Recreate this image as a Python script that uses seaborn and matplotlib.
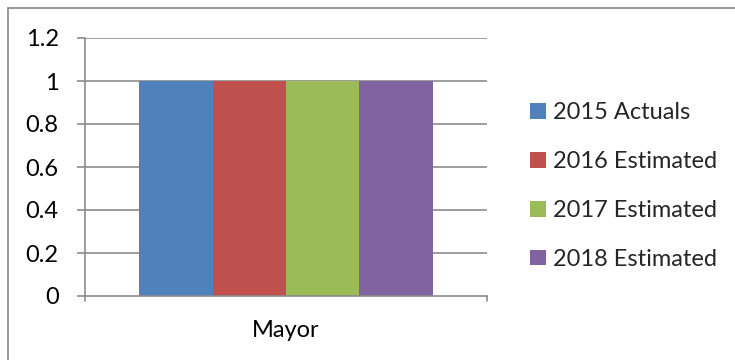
import matplotlib
matplotlib.use("Agg")
import matplotlib.pyplot as plt
import seaborn as sns
import pandas as pd
from matplotlib.lines import Line2D

categories = ["Mayor"]
series = ["2015 Actuals", "2016 Estimated", "2017 Estimated", "2018 Estimated"]
values = [1, 1, 1, 1]
colors = ["#4F81BD", "#C0504D", "#9BBB59", "#8064A2"]
yticks = [0, 0.2, 0.4, 0.6, 0.8, 1, 1.2]
ytick_labels = ["0", "0.2", "0.4", "0.6", "0.8", "1", "1.2"]

df = pd.DataFrame({
    "category": categories * len(series),
    "series": series,
    "value": values,
})

sns.set_theme(style="white")
plt.rcParams["font.family"] = ["Lato", "DejaVu Sans"]

FS = 17
fig = plt.figure(figsize=(7.35, 3.6), dpi=100)
ax = fig.add_axes([85 / 735, 1 - 296 / 360, 402 / 735, 258 / 360])

sns.barplot(data=df, x="category", y="value", hue="series", palette=colors,
            width=0.731, dodge=True, saturation=1, ax=ax, legend=True)
for p in ax.patches:
    p.set_edgecolor("none")

ax.set_ylim(0, 1.2)
ax.set_xlim(-0.5, 0.5)
ax.set_yticks(yticks)
ax.set_yticklabels(ytick_labels)
ax.set_xlabel("")
ax.set_ylabel("")
grid_c = "#8C8C8C"
for y in yticks[1:]:
    ax.axhline(y, color=grid_c, lw=1.2, zorder=0)
for s in ["top", "right"]:
    ax.spines[s].set_visible(False)
for s in ["left", "bottom"]:
    ax.spines[s].set_color(grid_c)
    ax.spines[s].set_linewidth(1.2)
ax.tick_params(axis="y", length=6, width=1.2, color=grid_c, left=True, pad=13,
               labelsize=FS, labelcolor="black")
ax.tick_params(axis="x", length=0, pad=17, labelsize=FS, labelcolor="black")
# Tick marks at both ends of the category axis
for xe in (-0.5, 0.5):
    ax.add_line(Line2D([xe, xe], [0, -0.025], color=grid_c, lw=1.2,
                       transform=ax.transData, clip_on=False))

handles, labels = ax.get_legend_handles_labels()
ax.legend(handles, labels, loc="center left", bbox_to_anchor=(521 / 735, 0.483),
          bbox_transform=fig.transFigure, frameon=False, fontsize=FS,
          handlelength=0.64, handleheight=0.64, handletextpad=0.3,
          labelspacing=1.18, borderaxespad=0)

# Chart frame along the top and left edges
fig.add_artist(Line2D([8 / 735, 1], [1 - 8 / 360, 1 - 8 / 360], color="#868686",
                      lw=1.2, transform=fig.transFigure))
fig.add_artist(Line2D([8 / 735, 8 / 735], [0, 1 - 8 / 360], color="#868686",
                      lw=1.2, transform=fig.transFigure))

fig.savefig("out.png", dpi=100, facecolor="white")
